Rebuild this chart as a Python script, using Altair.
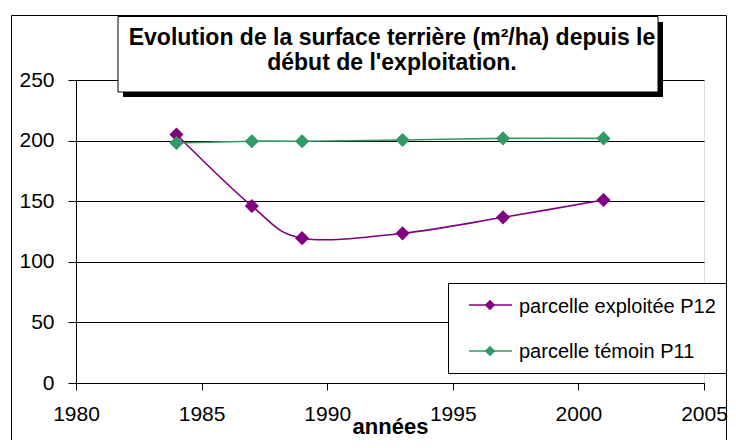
import altair as alt
import pandas as pd

# ---- data ----
years = [1984, 1987, 1989, 1993, 1997, 2001]
p12_values = [205, 146, 119.5, 123.5, 136.7, 151]
p11_values = [198, 199.5, 199.5, 200.5, 201.8, 201.8]
series_names = ["parcelle exploitée P12", "parcelle témoin P11"]
series_colors = ["#800080", "#339966"]
title_lines = ["Evolution de la surface terrière (m²/ha) depuis le",
               "début de l'exploitation."]
x_title = "années"

FONT = "Liberation Sans"

rows = []
for y, v in zip(years, p12_values):
    rows.append({"annee": y, "valeur": v, "serie": series_names[0], "ordre": 0})
for y, v in zip(years, p11_values):
    rows.append({"annee": y, "valeur": v, "serie": series_names[1], "ordre": 1})
df = pd.DataFrame(rows)

W, H = 628, 303

xscale = alt.Scale(domain=[1980, 2005], nice=False, zero=False)
yscale = alt.Scale(domain=[0, 250], nice=False)
cscale = alt.Scale(domain=series_names, range=series_colors)

xaxis = alt.Axis(values=[1980, 1985, 1990, 1995, 2000, 2005], format="d",
                 grid=False, tickSize=7, tickColor="black", domainColor="black",
                 labelFontSize=21, labelFont=FONT, labelColor="black", labelPadding=13,
                 title=x_title, titleFont=FONT, titleFontSize=22, titleFontWeight="bold",
                 titleColor="black", titleBaseline="alphabetic", titleY=50,
                 labelFlush=False, labelOverlap=False)
yaxis = alt.Axis(values=[0, 50, 100, 150, 200, 250], grid=True, gridColor="black",
                 gridOpacity=1, tickSize=8, tickColor="black", domainColor="black",
                 labelFontSize=21, labelFont=FONT, labelColor="black", labelPadding=14,
                 title=None, labelFlush=False, labelOverlap=False)

base = alt.Chart(df)

lines = base.mark_line(interpolate="cardinal", strokeWidth=1.6).encode(
    x=alt.X("annee:Q", scale=xscale, axis=xaxis),
    y=alt.Y("valeur:Q", scale=yscale, axis=yaxis),
    color=alt.Color("serie:N", scale=cscale, legend=None),
    order=alt.Order("ordre:Q"),
    detail="serie:N",
)
points = base.mark_point(shape="diamond", filled=True, size=200, opacity=1).encode(
    x=alt.X("annee:Q", scale=xscale),
    y=alt.Y("valeur:Q", scale=yscale),
    color=alt.Color("serie:N", scale=cscale, legend=None),
    order=alt.Order("ordre:Q"),
)

one = pd.DataFrame({"a": [0]})

# outer chart frame
frame = alt.Chart(one).mark_rect(
    fill=None, stroke="black", strokeWidth=1
).encode(x=alt.value(-64.5), x2=alt.value(650.5), y=alt.value(-64.5), y2=alt.value(420))

# title box with shadow
tshadow = alt.Chart(one).mark_rect(fill="black").encode(
    x=alt.value(47), x2=alt.value(587), y=alt.value(-58), y2=alt.value(17))
tbox = alt.Chart(one).mark_rect(
    fill="white", stroke="black", strokeWidth=1).encode(
    x=alt.value(42), x2=alt.value(582), y=alt.value(-63.5), y2=alt.value(12))
ttext = alt.Chart(one).mark_text(
    text=title_lines, font=FONT, fontSize=23, fontWeight="bold", color="black",
    align="center", baseline="alphabetic", lineHeight=25).encode(
    x=alt.value(316), y=alt.value(-35))

# legend box
leg_df = pd.DataFrame({"serie": series_names, "ly": [225, 271], "ty": [233, 278]})
lbox = alt.Chart(one).mark_rect(
    fill="white", stroke="black", strokeWidth=1).encode(
    x=alt.value(372.5), x2=alt.value(650.5), y=alt.value(203.5), y2=alt.value(293.5))
lrule = alt.Chart(leg_df).mark_rule(strokeWidth=1.6).encode(
    x=alt.value(393), x2=alt.value(436), y=alt.Y("ly:Q", scale=None),
    color=alt.Color("serie:N", scale=cscale, legend=None))
lpoint = alt.Chart(leg_df).mark_point(shape="diamond", filled=True, size=110, opacity=1).encode(
    x=alt.value(414), y=alt.Y("ly:Q", scale=None),
    color=alt.Color("serie:N", scale=cscale, legend=None))
ltext = alt.Chart(leg_df).mark_text(
    font=FONT, fontSize=20, color="black", align="left", baseline="alphabetic").encode(
    x=alt.value(443), y=alt.Y("ty:Q", scale=None), text="serie:N")

chart = alt.layer(
    frame, lines, points, tshadow, tbox, ttext, lbox, lrule, lpoint, ltext
).properties(
    width=W, height=H,
    autosize=alt.AutoSizeParams(type="none"),
    padding={"left": 68, "top": 72, "right": 24, "bottom": 57},
).configure_view(stroke=None).configure(background="white")

chart.save("out.html", embed_options={"renderer": "svg", "actions": False})
